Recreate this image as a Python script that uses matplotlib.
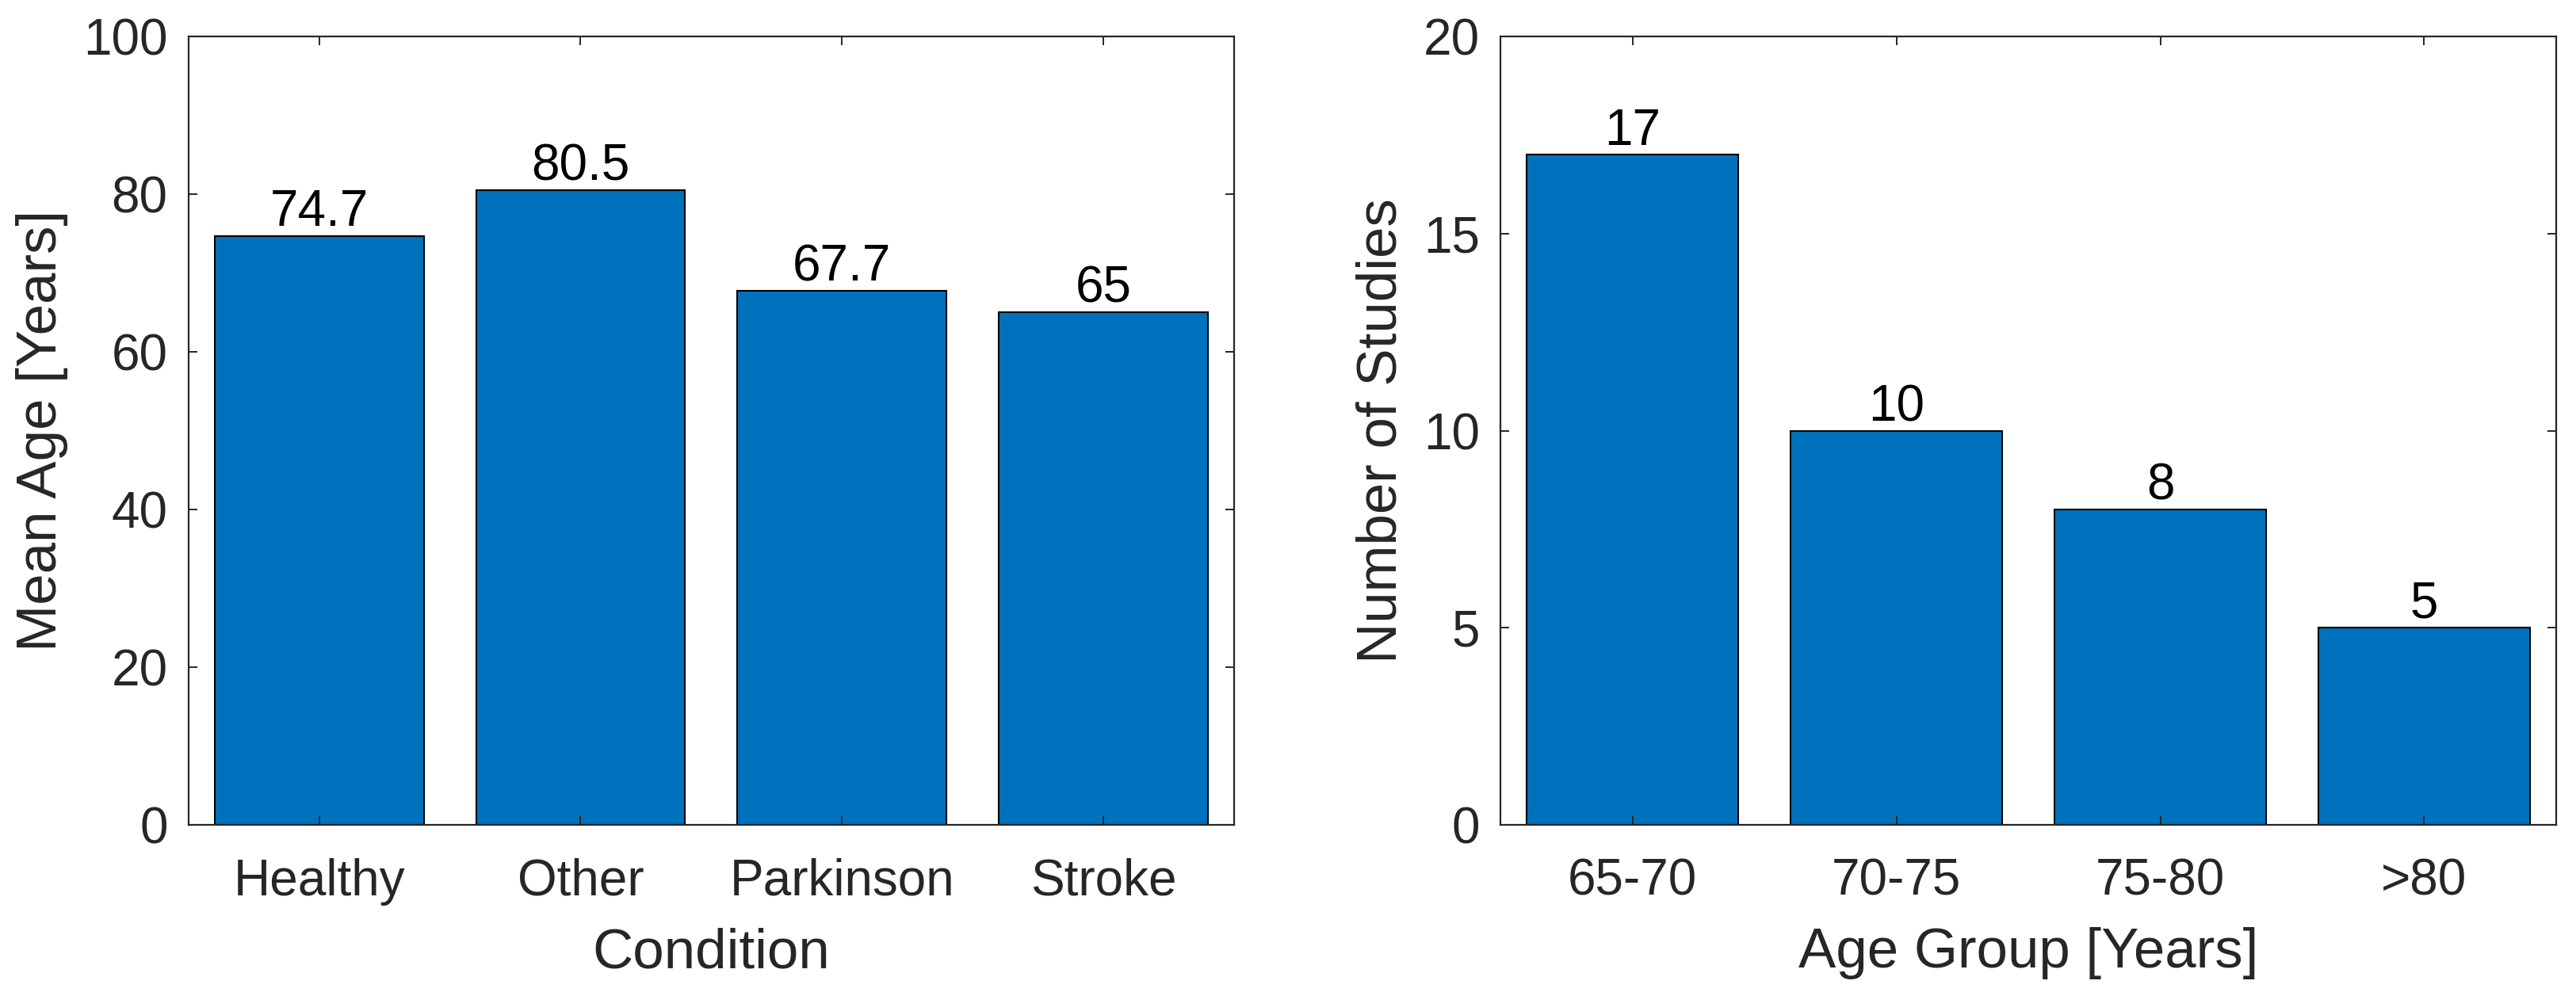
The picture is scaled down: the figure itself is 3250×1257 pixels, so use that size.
import matplotlib.pyplot as plt

plt.rcParams['font.family'] = ['Liberation Sans', 'DejaVu Sans']

# Left panel: mean age per condition
conditions = ['Healthy', 'Other', 'Parkinson', 'Stroke']
meanAge = [74.7, 80.5, 67.7, 65]
meanAgeLabels = ['74.7', '80.5', '67.7', '65']

# Right panel: studies per age group
ageGroups = ['65-70', '70-75', '75-80', '>80']
numStudies = [17, 10, 8, 5]
numStudiesLabels = ['17', '10', '8', '5']

barColor = '#0072BD'
axisColor = '#262626'

fig = plt.figure(figsize=(32.5, 12.57), dpi=100)
axLeft = fig.add_axes([0.0732, 0.1718, 0.4058, 0.7916])
axRight = fig.add_axes([0.5825, 0.1718, 0.4098, 0.7916])


def drawPanel(ax, cats, vals, labels, yticks, xlabel, ylabel):
    pos = list(range(len(cats)))
    ax.bar(pos, vals, width=0.8, color=barColor, edgecolor='black', linewidth=1.5)
    for p, v, t in zip(pos, vals, labels):
        ax.annotate(t, (p, v), xytext=(0, 9), textcoords='offset points',
                    ha='center', va='baseline', fontsize=46, color='black')
    ax.set_xlim(-0.5, len(cats) - 0.5)
    ax.set_ylim(yticks[0], yticks[-1])
    ax.set_xticks(pos)
    ax.set_xticklabels(cats)
    ax.set_yticks(yticks)
    ax.tick_params(direction='in', top=True, right=True, length=8, width=1.4,
                   colors=axisColor, labelsize=46, pad=19)
    ax.tick_params(axis='x', pad=30)
    for s in ax.spines.values():
        s.set_linewidth(1.6)
        s.set_color(axisColor)
    ax.set_xlabel(xlabel, fontsize=51, color=axisColor, labelpad=20)
    ax.set_ylabel(ylabel, fontsize=51, color=axisColor, labelpad=14)


drawPanel(axLeft, conditions, meanAge, meanAgeLabels, [0, 20, 40, 60, 80, 100],
          'Condition', 'Mean Age [Years]')
drawPanel(axRight, ageGroups, numStudies, numStudiesLabels, [0, 5, 10, 15, 20],
          'Age Group [Years]', 'Number of Studies')

fig.savefig('out.png', dpi=100, facecolor='white')
